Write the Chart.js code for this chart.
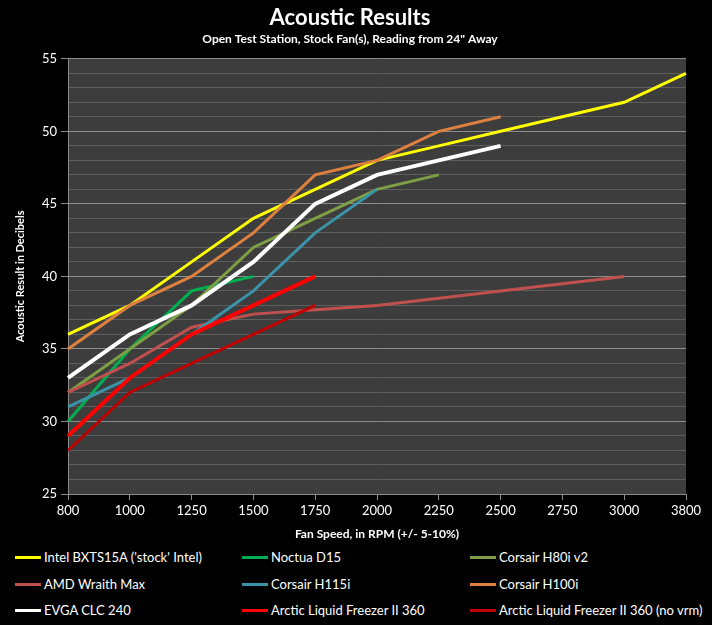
<!DOCTYPE html>
<html>
<head>
<meta charset="utf-8">
<script src="https://cdn.jsdelivr.net/npm/chart.js@4.4.1/dist/chart.umd.min.js"></script>
<style>
  html, body { margin: 0; padding: 0; background: #000; }
  #wrap { position: relative; width: 712px; height: 625px; background: #000; }
  #chart { position: absolute; left: 0; top: 0; }
  .leg { position: absolute; height: 16px; display: flex; align-items: center;
         font-family: Lato, "Liberation Sans", sans-serif; font-size: 13px; color: #fff; white-space: nowrap; }
  .leg span.ln { display: inline-block; width: 26px; height: 3px; margin-right: 3px; }
</style>
</head>
<body>
<div id="wrap">
  <canvas id="chart" width="712" height="545"></canvas>
  <div id="legend"></div>
</div>
<script>
(function () {
  'use strict';

  // Fan speed categories (RPM)
  var rpm = ['800', '1000', '1250', '1500', '1750', '2000', '2250', '2500', '2750', '3000', '3800'];

  // Acoustic results (dB) per cooler
  var intelStock = [36, 38, 41, 44, 46, 48, 49, 50, 51, 52, 54];
  var noctuaD15 = [30, 35, 39, 40];
  var corsairH80i = [32, 35, 38, 42, 44, 46, 47];
  var amdWraith = [32, 34, 36.5, 37.4, 37.7, 38, 38.5, 39, 39.5, 40];
  var corsairH115i = [31, 33, 36, 39, 43, 46];
  var corsairH100i = [35, 38, 40, 43, 47, 48, 50, 51];
  var evgaClc = [33, 36, 38, 41, 45, 47, 48, 49];
  var arcticLf = [29, 33, 36, 38, 40];
  var arcticLfNoVrm = [28, 32, 34, 36, 38];

  var yMin = 25, yMax = 55;

  var series = [
    { label: "Intel BXTS15A ('stock' Intel)", data: intelStock, color: '#ffff00', width: 3 },
    { label: 'Noctua D15', data: noctuaD15, color: '#00b050', width: 3 },
    { label: 'Corsair H80i v2', data: corsairH80i, color: '#7f9f45', width: 3 },
    { label: 'AMD Wraith Max', data: amdWraith, color: '#c0504d', width: 3 },
    { label: 'Corsair H115i', data: corsairH115i, color: '#3a93a8', width: 3 },
    { label: 'Corsair H100i', data: corsairH100i, color: '#dd8040', width: 3 },
    { label: 'EVGA CLC 240', data: evgaClc, color: '#ffffff', width: 4 },
    { label: 'Arctic Liquid Freezer II 360', data: arcticLf, color: '#ff0000', width: 4 },
    { label: 'Arctic Liquid Freezer II 360 (no vrm)', data: arcticLfNoVrm, color: '#c00000', width: 3 }
  ];

  var font = 'Lato, "Liberation Sans", sans-serif';
  var major = '#8c8c8c';
  var minor = '#5e5e5e';

  var plotBg = {
    id: 'plotBg',
    beforeDraw: function (chart) {
      var a = chart.chartArea;
      var ctx = chart.ctx;
      ctx.save();
      ctx.fillStyle = '#3d3d3d';
      ctx.fillRect(a.left, a.top, a.right - a.left, a.bottom - a.top);
      ctx.restore();
    }
  };

  var datasets = series.map(function (s, i) {
    return {
      label: s.label,
      data: s.data,
      borderColor: s.color,
      backgroundColor: s.color,
      borderWidth: s.width,
      pointRadius: 0,
      tension: 0,
      fill: false,
      order: series.length - i
    };
  });

  new Chart('chart', {
    type: 'line',
    data: { labels: rpm, datasets: datasets },
    options: {
      responsive: false,
      animation: false,
      layout: { padding: { left: 14, right: 26, top: 0, bottom: 0 } },
      plugins: {
        legend: { display: false },
        tooltip: { enabled: false },
        title: {
          display: true,
          text: 'Acoustic Results',
          color: '#fff',
          font: { family: font, size: 22, weight: 'bold' },
          padding: { top: 5, bottom: 0 }
        },
        subtitle: {
          display: true,
          text: 'Open Test Station, Stock Fan(s), Reading from 24" Away',
          color: '#fff',
          font: { family: font, size: 12, weight: 'bold' },
          padding: { top: 1, bottom: 12 }
        }
      },
      scales: {
        x: {
          type: 'category',
          offset: false,
          afterFit: function (scale) { scale.height = 51; },
          grid: { drawOnChartArea: false, color: major, tickLength: 6 },
          border: { color: major, width: 1 },
          ticks: { color: '#fff', font: { family: font, size: 13 }, padding: 3, maxRotation: 0, autoSkip: false },
          title: {
            display: true,
            text: 'Fan Speed, in RPM (+/- 5-10%)',
            color: '#fff',
            font: { family: font, size: 12, weight: 'bold' },
            padding: { top: 0, bottom: 4 }
          }
        },
        y: {
          min: yMin,
          max: yMax,
          afterFit: function (scale) { scale.width = 54; },
          grid: {
            color: function (c) { return c.tick.value % 5 === 0 ? major : minor; },
            tickColor: function (c) { return c.tick.value % 5 === 0 ? major : 'rgba(0,0,0,0)'; },
            tickLength: 7
          },
          border: { color: major, width: 1 },
          ticks: {
            stepSize: 1,
            autoSkip: false,
            color: '#fff',
            font: { family: font, size: 13 },
            padding: 4,
            callback: function (v) { return v % 5 === 0 ? v : ''; }
          },
          title: {
            display: true,
            text: 'Acoustic Result in Decibels',
            color: '#fff',
            font: { family: font, size: 11, weight: 'bold' },
            padding: { top: 0, bottom: 4 }
          }
        }
      }
    },
    plugins: [plotBg]
  });

  // Legend: 3 columns x 3 rows below the chart
  var colX = [15, 242, 470];
  var rowY = [549, 576, 602];
  var legend = document.getElementById('legend');
  series.forEach(function (s, i) {
    var item = document.createElement('div');
    item.className = 'leg';
    item.style.left = colX[i % 3] + 'px';
    item.style.top = rowY[Math.floor(i / 3)] + 'px';
    var ln = document.createElement('span');
    ln.className = 'ln';
    ln.style.background = s.color;
    item.appendChild(ln);
    item.appendChild(document.createTextNode(s.label));
    legend.appendChild(item);
  });
}());
</script>
</body>
</html>
